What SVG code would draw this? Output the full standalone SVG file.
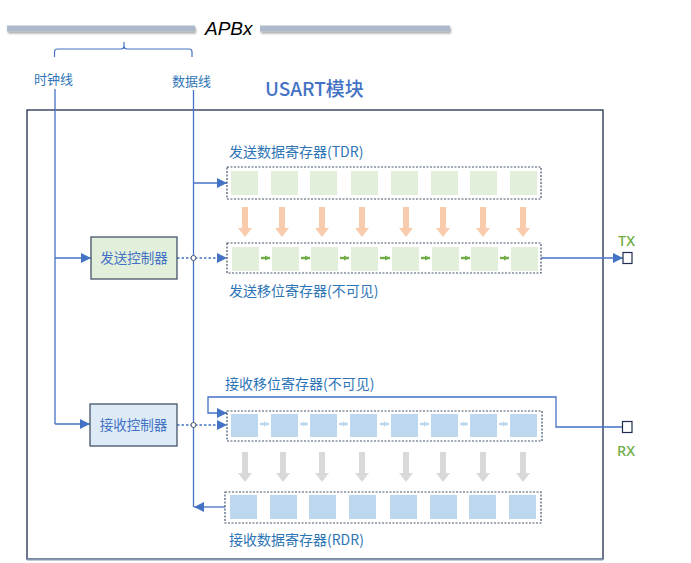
<svg xmlns="http://www.w3.org/2000/svg" width="691" height="563" viewBox="0 0 691 563">
<style>
.lbl{font-family:"Noto Sans CJK SC","Noto Sans",sans-serif;fill:#2e75b6;font-size:14px}
.sm{font-size:13px}
.ctl{font-family:"Noto Sans CJK SC","Noto Sans",sans-serif;fill:#4472c4;font-size:13.5px;text-anchor:middle}
.pin{font-family:"Noto Sans","Noto Sans CJK SC",sans-serif;fill:#70ad47;font-size:14.5px;font-weight:500}
.ln{fill:none;stroke:#4472c4;stroke-width:1.3}
.dot{fill:none;stroke:#4472c4;stroke-width:1.3;stroke-dasharray:2.5,2}
.reg{fill:#fff;stroke:#44546a;stroke-width:1.2;stroke-dasharray:2,1.5}
.g{fill:#e2efda}
.b{fill:#bdd7ee}
.oa{fill:#f8cbad}
.ga{fill:#d9d9d9}
.sg{stroke:#70ad47;stroke-width:2.4;fill:none}
.sb{stroke:#bdd7ee;stroke-width:2.4;fill:none}
</style>
<defs>
<marker id="ah" viewBox="0 0 10 10" refX="10" refY="5" markerWidth="10" markerHeight="10" markerUnits="userSpaceOnUse" orient="auto">
<path d="M0,0 L10,5 L0,10 z" fill="#4472c4"/>
</marker>
<marker id="agr" viewBox="0 0 10 10" refX="10" refY="5" markerWidth="5" markerHeight="7" markerUnits="userSpaceOnUse" orient="auto">
<path d="M0,0 L10,5 L0,10 z" fill="#70ad47"/>
</marker>
<marker id="abl" viewBox="0 0 10 10" refX="10" refY="5" markerWidth="5" markerHeight="7" markerUnits="userSpaceOnUse" orient="auto">
<path d="M0,0 L10,5 L0,10 z" fill="#bdd7ee"/>
</marker>
<path id="darr" d="M-3,0 H3 V21 H7 L0,30 L-7,21 H-3 Z"/>
<filter id="sh" x="-5%" y="-100%" width="110%" height="300%">
<feGaussianBlur in="SourceAlpha" stdDeviation="1.2"/>
<feOffset dx="1" dy="1.5"/>
<feComponentTransfer><feFuncA type="linear" slope="0.35"/></feComponentTransfer>
<feMerge><feMergeNode/><feMergeNode in="SourceGraphic"/></feMerge>
</filter>
</defs>

<g id="apb">
<rect x="7" y="25.5" width="188" height="6" fill="#acb9ca" filter="url(#sh)"/>
<rect x="260" y="25.5" width="190" height="6" fill="#acb9ca" filter="url(#sh)"/>
<text x="205" y="35" font-family="Liberation Sans, sans-serif" font-style="italic" font-size="19" fill="#000">APBx</text>
<path d="M54.5,57 V52 Q54.5,49 57.5,49 H121 Q124,49 124,46 V42 M124,46 Q124,49 127,49 H189 Q192,49 192,52 V57" fill="none" stroke="#4472c4" stroke-width="1.2"/>
<text class="lbl sm" x="34" y="84">时钟线</text>
<text class="lbl sm" x="172" y="86">数据线</text>
</g>

<g id="usart">
<rect x="27" y="110" width="576" height="449" fill="none" stroke="#1f2d50" stroke-width="1.3"/>
<line x1="27" y1="559.5" x2="603" y2="559.5" stroke="#8497b0" stroke-width="2"/>
<text x="265" y="96" font-family="Noto Sans CJK SC, Noto Sans, sans-serif" font-size="19" font-weight="500" fill="#4472c4">USART模块</text>
</g>

<g id="connectors">
<line class="ln" x1="55" y1="89" x2="55" y2="424"/>
<line class="ln" x1="193.5" y1="90" x2="193.5" y2="507"/>
<line class="ln" x1="55" y1="258" x2="91" y2="258" marker-end="url(#ah)"/>
<line class="ln" x1="55" y1="424" x2="90" y2="424" marker-end="url(#ah)"/>
<line class="ln" x1="193.5" y1="183" x2="227" y2="183" marker-end="url(#ah)"/>
<line class="dot" x1="177" y1="258" x2="227" y2="258" marker-end="url(#ah)"/>
<line class="dot" x1="177" y1="425" x2="227" y2="425" marker-end="url(#ah)"/>
<circle cx="193.5" cy="258" r="2.5" fill="#fff" stroke="#44546a" stroke-width="1"/>
<circle cx="193.5" cy="425" r="2.5" fill="#fff" stroke="#44546a" stroke-width="1"/>
<line class="ln" x1="541" y1="258" x2="623" y2="258" marker-end="url(#ah)"/>
<path class="ln" d="M622,427 H556 V397 H208 V413 H227" marker-end="url(#ah)" stroke="#6f8fc9"/>
<line class="ln" x1="225" y1="507" x2="194" y2="507" marker-end="url(#ah)"/>
</g>

<g id="tx_ctrl">
<rect x="91" y="237" width="86" height="42" fill="#e2efda" stroke="#44546a" stroke-width="1.3"/>
<text class="ctl" x="134" y="263">发送控制器</text>
</g>

<g id="rx_ctrl">
<rect x="90" y="404" width="87" height="42" fill="#deebf7" stroke="#44546a" stroke-width="1.3"/>
<text class="ctl" x="133.5" y="430">接收控制器</text>
</g>

<g id="tdr">
<text class="lbl" x="229" y="157">发送数据寄存器(TDR)</text>
<rect class="reg" x="227" y="167" width="314" height="32"/>
<rect class="g" x="231" y="171" width="27" height="24"/>
<rect class="g" x="271" y="171" width="27" height="24"/>
<rect class="g" x="310" y="171" width="27" height="24"/>
<rect class="g" x="351" y="171" width="27" height="24"/>
<rect class="g" x="391" y="171" width="27" height="24"/>
<rect class="g" x="431" y="171" width="27" height="24"/>
<rect class="g" x="470" y="171" width="27" height="24"/>
<rect class="g" x="510" y="171" width="27" height="24"/>
</g>

<g id="tdr_arrows" class="oa">
<use href="#darr" x="245" y="207"/>
<use href="#darr" x="282" y="207"/>
<use href="#darr" x="322" y="207"/>
<use href="#darr" x="362" y="207"/>
<use href="#darr" x="406" y="207"/>
<use href="#darr" x="443" y="207"/>
<use href="#darr" x="483" y="207"/>
<use href="#darr" x="523" y="207"/>
</g>

<g id="tsr">
<rect class="reg" x="227" y="243" width="314" height="30"/>
<rect class="g" x="232" y="247" width="27" height="24"/>
<rect class="g" x="272" y="247" width="27" height="24"/>
<rect class="g" x="311" y="247" width="27" height="24"/>
<rect class="g" x="351" y="247" width="27" height="24"/>
<rect class="g" x="392" y="247" width="27" height="24"/>
<rect class="g" x="432" y="247" width="27" height="24"/>
<rect class="g" x="471" y="247" width="27" height="24"/>
<rect class="g" x="511" y="247" width="27" height="24"/>
<g class="sg">
<line x1="261" y1="258" x2="270" y2="258" marker-end="url(#agr)"/>
<line x1="301" y1="258" x2="310" y2="258" marker-end="url(#agr)"/>
<line x1="340" y1="258" x2="349" y2="258" marker-end="url(#agr)"/>
<line x1="380" y1="258" x2="390" y2="258" marker-end="url(#agr)"/>
<line x1="421" y1="258" x2="430" y2="258" marker-end="url(#agr)"/>
<line x1="461" y1="258" x2="470" y2="258" marker-end="url(#agr)"/>
<line x1="500" y1="258" x2="509" y2="258" marker-end="url(#agr)"/>
</g>
<text class="lbl" x="229" y="296">发送移位寄存器(不可见)</text>
</g>

<g id="tx_pin">
<text class="pin" x="618" y="246">TX</text>
<rect x="623" y="252.5" width="9" height="11" fill="#fff" stroke="#1f2d50" stroke-width="1.2"/>
</g>

<g id="rx_pin">
<text class="pin" x="617" y="456">RX</text>
<rect x="622.5" y="421.5" width="9.5" height="11" fill="#fff" stroke="#1f2d50" stroke-width="1.2"/>
</g>

<g id="rsr">
<text class="lbl" x="225" y="389">接收移位寄存器(不可见)</text>
<rect class="reg" x="227" y="411" width="315" height="30"/>
<rect class="b" x="231" y="414" width="27" height="23"/>
<rect class="b" x="271" y="414" width="27" height="23"/>
<rect class="b" x="310" y="414" width="27" height="23"/>
<rect class="b" x="350" y="414" width="27" height="23"/>
<rect class="b" x="391" y="414" width="27" height="23"/>
<rect class="b" x="431" y="414" width="27" height="23"/>
<rect class="b" x="470" y="414" width="27" height="23"/>
<rect class="b" x="510" y="414" width="27" height="23"/>
<g class="sb">
<line x1="260" y1="424" x2="269" y2="424" marker-end="url(#abl)"/>
<line x1="300" y1="424" x2="308" y2="424" marker-end="url(#abl)"/>
<line x1="339" y1="424" x2="348" y2="424" marker-end="url(#abl)"/>
<line x1="380" y1="424" x2="389" y2="424" marker-end="url(#abl)"/>
<line x1="420" y1="424" x2="429" y2="424" marker-end="url(#abl)"/>
<line x1="460" y1="424" x2="468" y2="424" marker-end="url(#abl)"/>
<line x1="499" y1="424" x2="508" y2="424" marker-end="url(#abl)"/>
</g>
</g>

<g id="rsr_arrows" class="ga">
<use href="#darr" x="245" y="452"/>
<use href="#darr" x="283" y="452"/>
<use href="#darr" x="322" y="452"/>
<use href="#darr" x="362" y="452"/>
<use href="#darr" x="406" y="452"/>
<use href="#darr" x="443" y="452"/>
<use href="#darr" x="483" y="452"/>
<use href="#darr" x="523" y="452"/>
</g>

<g id="rdr">
<rect class="reg" x="225" y="492" width="316" height="31"/>
<rect class="b" x="230" y="495" width="27" height="24"/>
<rect class="b" x="270" y="495" width="27" height="24"/>
<rect class="b" x="309" y="495" width="27" height="24"/>
<rect class="b" x="349" y="495" width="27" height="24"/>
<rect class="b" x="390" y="495" width="27" height="24"/>
<rect class="b" x="430" y="495" width="27" height="24"/>
<rect class="b" x="469" y="495" width="27" height="24"/>
<rect class="b" x="509" y="495" width="27" height="24"/>
<text class="lbl" x="229" y="545">接收数据寄存器(RDR)</text>
</g>
</svg>
